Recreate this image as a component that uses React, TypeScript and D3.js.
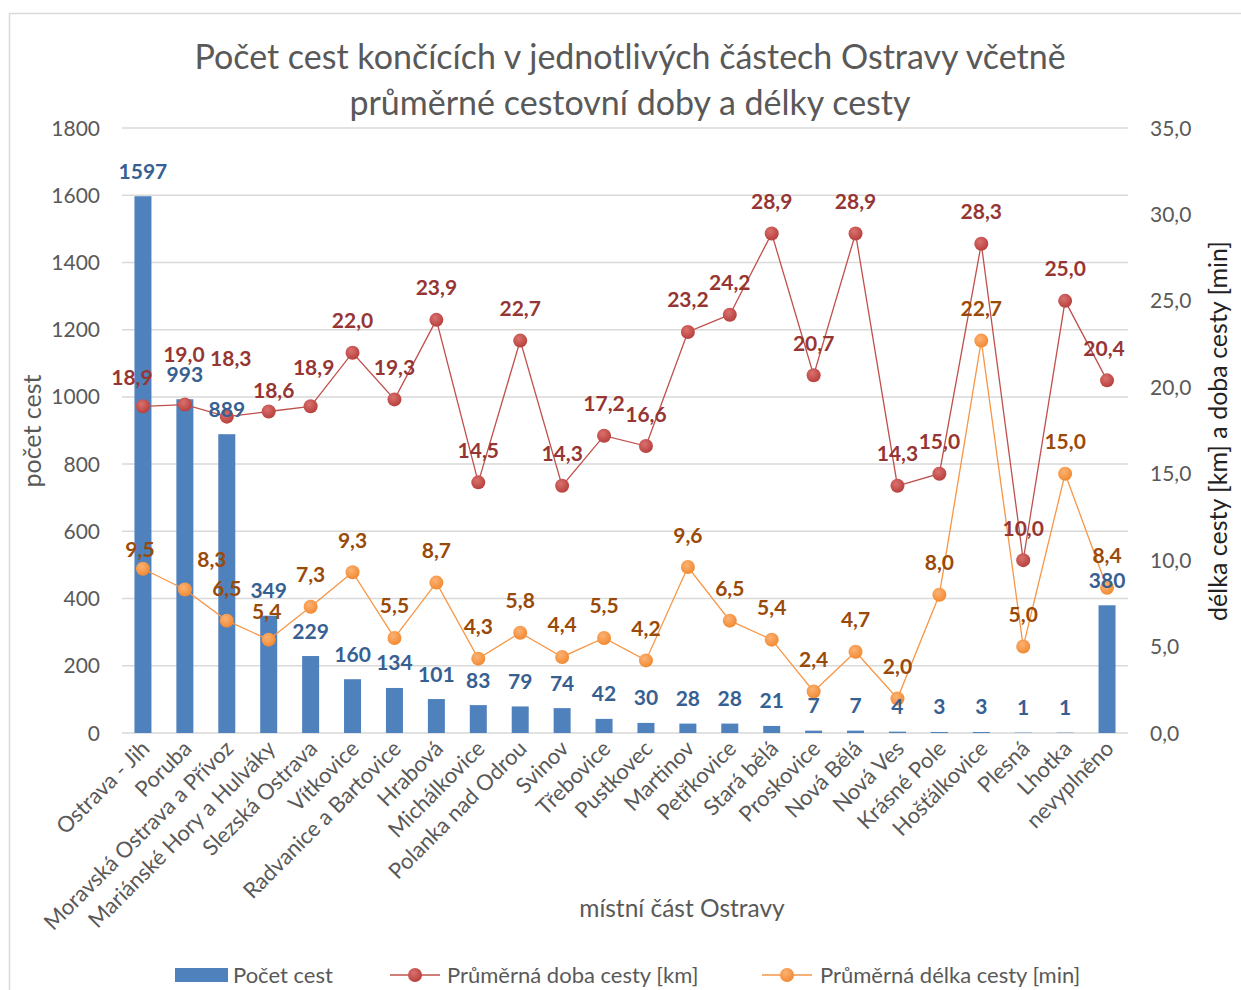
import React from "react";
import * as d3 from "d3";

const categories = [
  "Ostrava - Jih", "Poruba", "Moravská Ostrava a Přívoz", "Mariánské Hory a Hulváky",
  "Slezská Ostrava", "Vítkovice", "Radvanice a Bartovice", "Hrabová", "Michálkovice",
  "Polanka nad Odrou", "Svinov", "Třebovice", "Pustkovec", "Martinov", "Petřkovice",
  "Stará bělá", "Proskovice", "Nová Bělá", "Nová Ves", "Krásné Pole", "Hošťálkovice",
  "Plesná", "Lhotka", "nevyplněno",
];
const pocetCest = [1597, 993, 889, 349, 229, 160, 134, 101, 83, 79, 74, 42, 30, 28, 28, 21, 7, 7, 4, 3, 3, 1, 1, 380];
const dobaCesty = [18.9, 19.0, 18.3, 18.6, 18.9, 22.0, 19.3, 23.9, 14.5, 22.7, 14.3, 17.2, 16.6, 23.2, 24.2, 28.9, 20.7, 28.9, 14.3, 15.0, 28.3, 10.0, 25.0, 20.4];
const delkaCesty = [9.5, 8.3, 6.5, 5.4, 7.3, 9.3, 5.5, 8.7, 4.3, 5.8, 4.4, 5.5, 4.2, 9.6, 6.5, 5.4, 2.4, 4.7, 2.0, 8.0, 22.7, 5.0, 15.0, 8.4];
const leftTicks = [0, 200, 400, 600, 800, 1000, 1200, 1400, 1600, 1800];
const rightTicks = [0, 5, 10, 15, 20, 25, 30, 35];
const titleLines = ["Počet cest končících v jednotlivých částech Ostravy včetně", "průměrné cestovní doby a délky cesty"];
const seriesNames = ["Počet cest", "Průměrná doba cesty [km]", "Průměrná délka cesty [min]"];

// label nudges (dx, dy) where labels were moved manually in the original
const redNudge: Record<number, [number, number]> = { 0: [-11, 3], 1: [-1, -18], 2: [4, -26], 3: [5, 11], 4: [3, -7], 23: [-3, 0] };
const orangeNudge: Record<number, [number, number]> = { 0: [-3, 13], 1: [27, 2], 3: [-2, 4] };

const W = 1241, H = 990;
const FONT = "Lato, 'Open Sans', sans-serif";

export default function App() {
  const left = 122, right = 1128, top = 128, bottom = 733;
  const x = d3.scaleBand<string>().domain(categories).range([left, right]);
  const yL = d3.scaleLinear().domain([0, 1800]).range([bottom, top]);
  const yR = d3.scaleLinear().domain([0, 35]).range([bottom, top]);
  const cx = (c: string) => (x(c) as number) + x.bandwidth() / 2;
  const barW = 17;
  const fmt = (v: number) => v.toFixed(1).replace(".", ",");

  const lineRed = d3.line<number>().x((_, i) => cx(categories[i])).y((d) => yR(d));
  const lineOrange = d3.line<number>().x((_, i) => cx(categories[i])).y((d) => yR(d));

  const red = "#C0504D", redLbl = "#963634";
  const orange = "#F79646", orangeLbl = "#9A4A08";
  const blue = "#4F81BD", blueLbl = "#376092";
  const grey = "#595959";

  return (
    <svg width={W} height={H} style={{ position: "absolute", left: 0, top: 0, background: "#fff" }} fontFamily={FONT}>
      <defs>
        <radialGradient id="gRed" cx="40%" cy="35%" r="65%">
          <stop offset="0%" stopColor="#D9716E" />
          <stop offset="100%" stopColor="#B8403D" />
        </radialGradient>
        <radialGradient id="gOr" cx="40%" cy="35%" r="65%">
          <stop offset="0%" stopColor="#FBB274" />
          <stop offset="100%" stopColor="#F28A33" />
        </radialGradient>
      </defs>
      <rect x={9.5} y={13.5} width={1240} height={990} fill="#fff" stroke="#D9D9D9" strokeWidth={1.5} />
      {titleLines.map((t, i) => (
        <text key={i} x={630} y={69 + i * 46} textAnchor="middle" fontSize={34} fill={grey}>{t}</text>
      ))}
      {/* gridlines */}
      {leftTicks.map((t) => (
        <line key={t} x1={left} x2={right} y1={yL(t)} y2={yL(t)} stroke="#D9D9D9" strokeWidth={1.5} />
      ))}
      {leftTicks.map((t) => (
        <text key={t} x={100} y={yL(t) + 7.5} textAnchor="end" fontSize={21} fill={grey}>{t}</text>
      ))}
      {rightTicks.map((t) => (
        <text key={t} x={1150} y={yR(t) + 7.5} textAnchor="start" fontSize={21} fill={grey}>{fmt(t)}</text>
      ))}
      <text transform={`translate(41,431) rotate(-90)`} textAnchor="middle" fontSize={25} fill={grey}>počet cest</text>
      <text transform={`translate(1227,431) rotate(-90)`} textAnchor="middle" fontSize={25} fill="#222">délka cesty [km] a doba cesty [min]</text>
      <text x={682} y={917} textAnchor="middle" fontSize={24.5} fill={grey}>místní část Ostravy</text>
      {/* bars */}
      {categories.map((c, i) => (
        <rect key={c} x={cx(c) - barW / 2} y={yL(pocetCest[i])} width={barW} height={bottom - yL(pocetCest[i])} fill={blue} />
      ))}
      {/* x labels */}
      {categories.map((c) => (
        <text key={c} transform={`translate(${cx(c) + 8},${bottom + 17}) rotate(-45)`} textAnchor="end" fontSize={22} fill={grey}>{c}</text>
      ))}
      {/* lines */}
      <path d={lineOrange(delkaCesty) || ""} fill="none" stroke={orange} strokeWidth={1.3} />
      <path d={lineRed(dobaCesty) || ""} fill="none" stroke={red} strokeWidth={1.3} />
      {dobaCesty.map((v, i) => (
        <circle key={"r" + i} cx={cx(categories[i])} cy={yR(v)} r={7} fill="url(#gRed)" />
      ))}
      {delkaCesty.map((v, i) => (
        <circle key={"o" + i} cx={cx(categories[i])} cy={yR(v)} r={7} fill="url(#gOr)" />
      ))}
      {/* bar labels */}
      {categories.map((c, i) => (
        <text key={"bl" + c} x={cx(c)} y={yL(pocetCest[i]) - 17.5} textAnchor="middle" fontSize={21} fontWeight="bold" fill={blueLbl}>{pocetCest[i]}</text>
      ))}
      {dobaCesty.map((v, i) => {
        const [dx, dy] = redNudge[i] || [0, 0];
        return (
          <text key={"rl" + i} x={cx(categories[i]) + dx} y={yR(v) - 24.5 + dy} textAnchor="middle" fontSize={21} fontWeight="bold" fill={redLbl}>{fmt(v)}</text>
        );
      })}
      {delkaCesty.map((v, i) => {
        const [dx, dy] = orangeNudge[i] || [0, 0];
        return (
          <text key={"ol" + i} x={cx(categories[i]) + dx} y={yR(v) - 24.5 + dy} textAnchor="middle" fontSize={21} fontWeight="bold" fill={orangeLbl}>{fmt(v)}</text>
        );
      })}
      {/* legend */}
      <rect x={175} y={968} width={53} height={14} fill={blue} />
      <text x={233} y={983} fontSize={22} fill={grey}>{seriesNames[0]}</text>
      <line x1={390} x2={440} y1={975} y2={975} stroke={red} strokeWidth={1.3} />
      <circle cx={415} cy={975} r={7} fill="url(#gRed)" />
      <text x={447} y={983} fontSize={22} fill={grey}>{seriesNames[1]}</text>
      <line x1={762} x2={812} y1={975} y2={975} stroke={orange} strokeWidth={1.3} />
      <circle cx={787} cy={975} r={7} fill="url(#gOr)" />
      <text x={820} y={983} fontSize={22} fill={grey}>{seriesNames[2]}</text>
    </svg>
  );
}
